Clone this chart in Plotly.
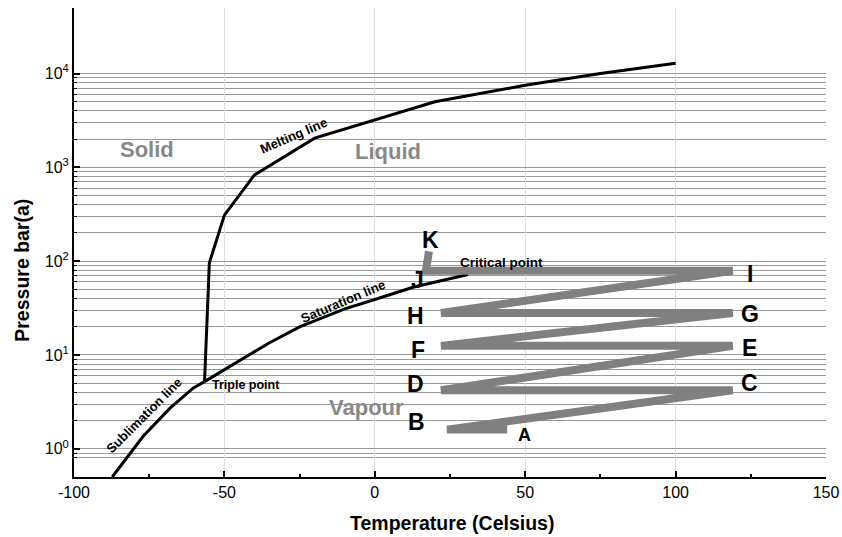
import math
import plotly.graph_objects as go

# ---------------- data ----------------
# Phase boundary curves (temperature in Celsius, pressure in bar(a))
melt_T = [-56.6, -55, -50, -40, -20, 0, 20, 50, 75, 100]
melt_P = [5.2, 96, 310, 830, 2050, 3200, 5000, 7500, 10000, 12900]

sat_T = [-56.6, -50, -42.6, -35, -25, -10, 0, 13, 31]
sat_P = [5.2, 7.0, 9.7, 13.5, 19.9, 31, 39, 53, 72]

sub_T = [-87.3, -77, -68, -60.3, -56.6]
sub_P = [0.5, 1.36, 2.73, 4.46, 5.2]

# Process path A..K
path_labels = ["A", "B", "C", "D", "E", "F", "G", "H", "I", "J", "K"]
path_T = [44, 24, 119, 22, 119, 22, 119, 22, 119, 17, 18]
path_P = [1.6, 1.6, 4.2, 4.2, 12.5, 12.5, 28, 28, 79, 79, 127]

# Axis ticks
x_ticks = [-100, -50, 0, 50, 100, 150]
x_ticktext = ["-100", "-50", "0", "50", "100", "150"]
x_minor = [-75, -25, 25, 75, 125]
y_ticks = [1, 10, 100, 1000, 10000]
y_ticktext = ["10<sup>0</sup>", "10<sup>1</sup>", "10<sup>2</sup>", "10<sup>3</sup>", "10<sup>4</sup>"]
y_minor = [0.8, 0.9] + [m * d for d in [1, 10, 100, 1000] for m in range(2, 10)]

x_title = "Temperature (Celsius)"
y_title = "Pressure bar(a)"

# ---------------- figure ----------------
FONT = "Liberation Sans, Arial, Helvetica, sans-serif"
fig = go.Figure()

for T, P in [(melt_T, melt_P), (sat_T, sat_P), (sub_T, sub_P)]:
    fig.add_trace(go.Scatter(x=T, y=P, mode="lines",
                             line=dict(color="black", width=3),
                             hoverinfo="skip", showlegend=False))

fig.add_trace(go.Scatter(x=path_T, y=path_P, mode="lines",
                         line=dict(color="#808080", width=8),
                         hoverinfo="skip", showlegend=False))

# labels at path points (pixel offsets)
label_shift = {
    "A": (17, -5, 18), "B": (-30, 8, 23), "C": (17, 7, 23), "D": (-25, 6, 23),
    "E": (17, -2, 23), "F": (-23, -4, 23), "G": (17, -1, 23), "H": (-25, -3, 23),
    "I": (17, -3, 23), "J": (-8, -9, 23), "K": (2, 11, 23),
}
for lab, T, P in zip(path_labels, path_T, path_P):
    dx, dy, fs = label_shift[lab]
    fig.add_annotation(x=T, y=math.log10(P), text=lab, showarrow=False,
                       xshift=dx, yshift=dy,
                       font=dict(family=FONT, size=fs, color="black", weight="bold"))

def txt(x, p, text, size, color="black", angle=0):
    fig.add_annotation(x=x, y=math.log10(p), text=text, showarrow=False,
                       textangle=angle,
                       font=dict(family=FONT, size=size, color=color, weight="bold"))

txt(-75.7, 10 ** 3.187, "Solid", 22, "#888888")
txt(4.4, 10 ** 3.169, "Liquid", 22, "#888888")
txt(-2.9, 10 ** 0.439, "Vapour", 22, "#888888")
txt(-26.9, 10 ** 3.336, "Melting line", 13, angle=-23)
txt(-10.6, 10 ** 1.568, "Saturation line", 13, angle=-23)
txt(-76.7, 10 ** 0.354, "Sublimation line", 13, angle=-45)
txt(-42.8, 10 ** 0.679, "Triple point", 12.5)
txt(42.2, 10 ** 1.991, "Critical point", 13.5)

# axis titles placed as paper-referenced annotations
fig.add_annotation(xref="paper", yref="paper", x=0.503, y=-0.099, text=x_title,
                   showarrow=False, xanchor="center", yanchor="middle",
                   font=dict(family=FONT, size=19.5, color="black", weight="bold"))
fig.add_annotation(xref="paper", yref="paper", x=-0.069, y=0.44, text=y_title,
                   showarrow=False, textangle=-90, xanchor="center", yanchor="middle",
                   font=dict(family=FONT, size=19.5, color="black", weight="bold"))

fig.update_xaxes(
    range=[-100, 150], tickvals=x_ticks, ticktext=x_ticktext, automargin=False,
    ticks="inside", ticklen=6, tickwidth=1.5,
    tickcolor="black", showline=True, linecolor="black", linewidth=2,
    showgrid=True, gridcolor="#dddddd", gridwidth=1, zeroline=False,
    tickfont=dict(family=FONT, size=16, color="black"),
    minor=dict(tickvals=x_minor, ticks="inside", ticklen=3, tickcolor="black",
               tickwidth=1.5, showgrid=False),
)
fig.update_yaxes(
    type="log", range=[math.log10(0.5), math.log10(5e4)], automargin=False,
    tickvals=y_ticks, ticktext=y_ticktext, ticks="inside", ticklen=6, tickwidth=1.5,
    tickcolor="black", showline=True, linecolor="black", linewidth=2,
    showgrid=True, gridcolor="#999999", gridwidth=1, zeroline=False,
    tickfont=dict(family=FONT, size=16, color="black"),
    minor=dict(tickvals=y_minor, ticks="inside", ticklen=3, tickcolor="black",
               tickwidth=1, showgrid=True, gridcolor="#999999", gridwidth=1),
)
fig.update_layout(
    width=842, height=537, margin=dict(l=74, r=16, t=8, b=59.5),
    plot_bgcolor="white", paper_bgcolor="white", showlegend=False,
)

# remove the default page margin so the figure fills the window exactly
fig.write_html("out.html",
               config={"displayModeBar": False},
               post_script="document.body.style.margin='0px';"
                           "document.body.style.overflow='hidden';")
